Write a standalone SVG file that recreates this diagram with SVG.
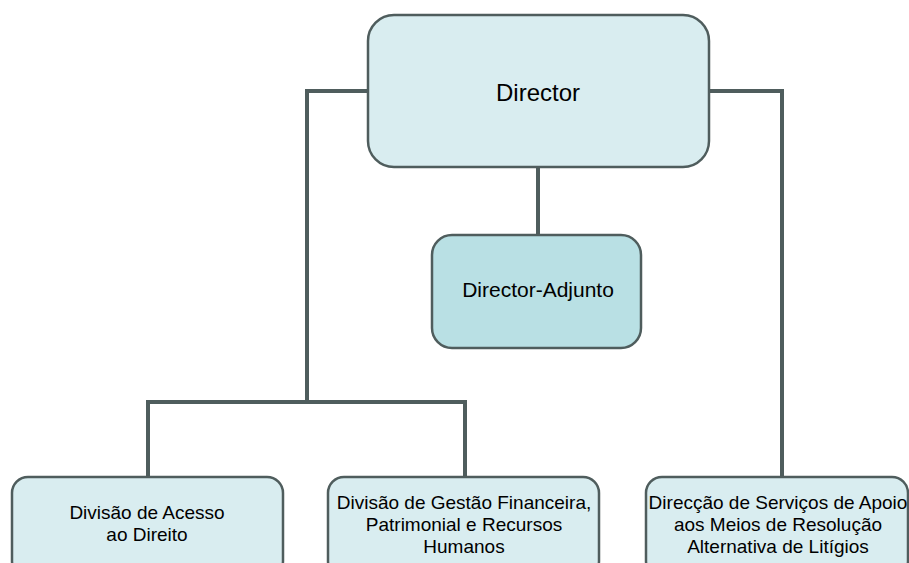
<svg xmlns="http://www.w3.org/2000/svg" width="909" height="563" viewBox="0 0 909 563">
<style>
.box{fill:#d9edf0;stroke:#4f5d5d;stroke-width:2.5}
.box2{fill:#b9e0e4;stroke:#4f5d5d;stroke-width:2.5}
.conn{fill:none;stroke:#4f5d5d;stroke-width:4}
text{font-family:"Liberation Sans",Arial,sans-serif;fill:#000;text-anchor:middle}
.t1{font-size:24px}
.t2{font-size:21px}
.t3{font-size:19px}
</style>
<rect width="909" height="563" fill="#fff"/>
<g id="connectors">
<path class="conn" d="M538,167 V235"/>
<path class="conn" d="M368,91 H307 V402"/>
<path class="conn" d="M148,477 V402 H465 V477"/>
<path class="conn" d="M709,91 H782 V477"/>
</g>
<g id="director">
<rect class="box" x="368" y="15" width="341" height="152" rx="26"/>
<text class="t1" x="538" y="101">Director</text>
</g>
<g id="director-adjunto">
<rect class="box2" x="432" y="235" width="209" height="113" rx="20"/>
<text class="t2" x="538" y="297">Director-Adjunto</text>
</g>
<g id="divisao-acesso">
<rect class="box" x="12" y="477" width="271" height="100" rx="16"/>
<text class="t3" x="147" y="519">Divisão de Acesso</text>
<text class="t3" x="147" y="541">ao Direito</text>
</g>
<g id="divisao-gestao">
<rect class="box" x="328" y="477" width="271" height="100" rx="16"/>
<text class="t3" x="464" y="509">Divisão de Gestão Financeira,</text>
<text class="t3" x="464" y="531">Patrimonial e Recursos</text>
<text class="t3" x="464" y="553">Humanos</text>
</g>
<g id="direccao-servicos">
<rect class="box" x="646" y="477" width="262" height="100" rx="16"/>
<text class="t3" x="778" y="509">Direcção de Serviços de Apoio</text>
<text class="t3" x="778" y="531">aos Meios de Resolução</text>
<text class="t3" x="778" y="553">Alternativa de Litígios</text>
</g>
</svg>
